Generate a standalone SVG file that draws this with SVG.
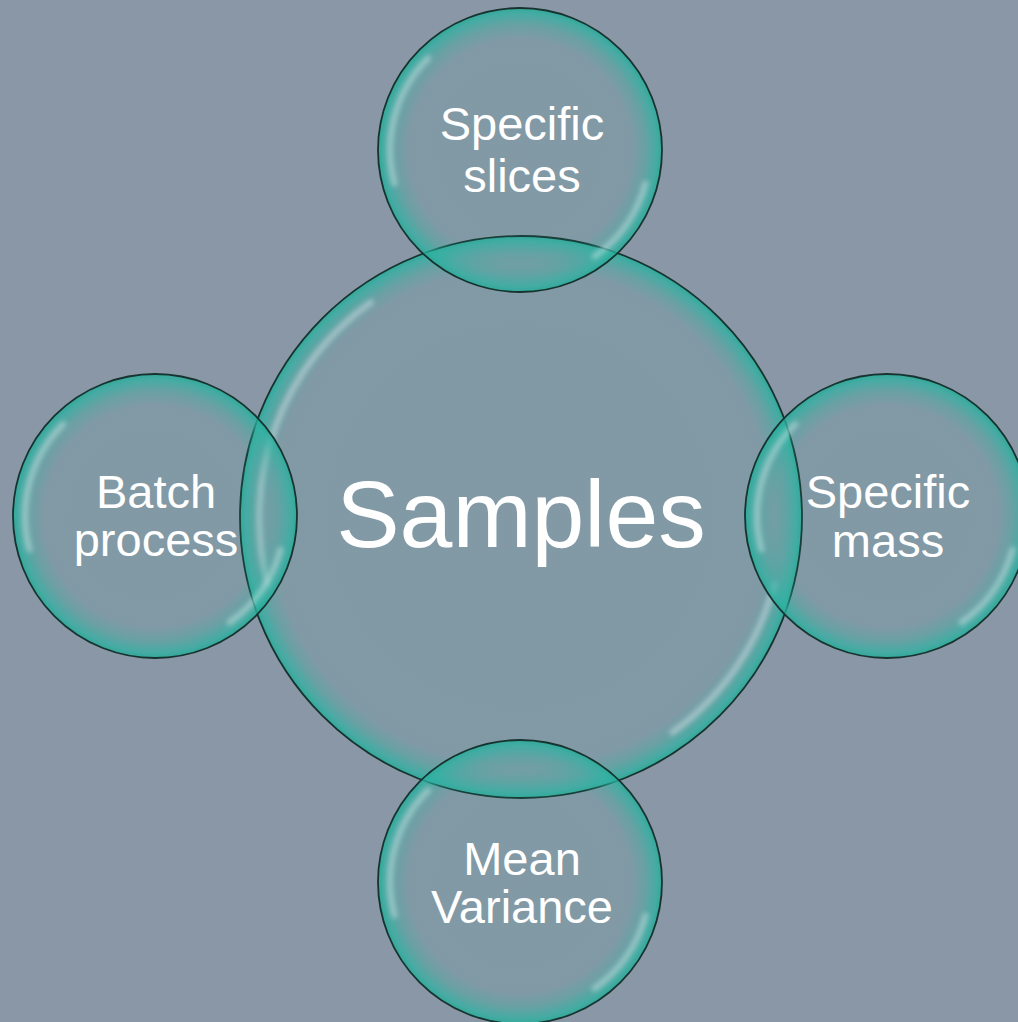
<svg xmlns="http://www.w3.org/2000/svg" width="1018" height="1022" viewBox="0 0 1018 1022">
  <style>
    .rim { stroke: #16332f; stroke-width: 1.8; }
    .hl { fill: none; stroke: #e3eef0; stroke-opacity: 0.45; stroke-width: 6; stroke-linecap: round; filter: url(#soft); }
    .lbl { font-family: "Liberation Sans", Arial, sans-serif; fill: #ffffff; text-anchor: middle; }
    .small { font-size: 47px; }
    .big { font-size: 95px; }
  </style>
  <defs>
    <radialGradient id="bubS" cx="50%" cy="50%" r="50%">
      <stop offset="0" stop-color="#2cb3a2" stop-opacity="0.08"/>
      <stop offset="0.78" stop-color="#2cb3a2" stop-opacity="0.1"/>
      <stop offset="0.88" stop-color="#2cb3a2" stop-opacity="0.35"/>
      <stop offset="0.96" stop-color="#2cb3a2" stop-opacity="0.72"/>
      <stop offset="1" stop-color="#27aa98" stop-opacity="0.88"/>
    </radialGradient>
    <radialGradient id="bubL" cx="50%" cy="50%" r="50%">
      <stop offset="0" stop-color="#2cb3a2" stop-opacity="0.08"/>
      <stop offset="0.89" stop-color="#2cb3a2" stop-opacity="0.1"/>
      <stop offset="0.94" stop-color="#2cb3a2" stop-opacity="0.35"/>
      <stop offset="0.98" stop-color="#2cb3a2" stop-opacity="0.72"/>
      <stop offset="1" stop-color="#27aa98" stop-opacity="0.88"/>
    </radialGradient>
    <filter id="soft" x="-20%" y="-20%" width="140%" height="140%">
      <feGaussianBlur stdDeviation="2.5"/>
    </filter>
    <path id="hlS1" d="M -91.9 -91.9 A 130 130 0 0 0 -125.6 33.6"/>
    <path id="hlS2" d="M 125.6 33.6 A 130 130 0 0 1 74.6 106.5"/>
  </defs>
  <rect width="1018" height="1022" fill="#8a97a6"/>

  <g id="connectors"/>

  <g id="node-samples" transform="translate(521,517)">
    <circle r="281" fill="url(#bubL)" class="rim"/>
    <path class="hl" d="M -150.3 -214.6 A 264 264 0 0 0 -253.1 67.8"/>
    <path class="hl" d="M 253.1 67.8 A 264 264 0 0 1 151.4 215.5"/>
    <text class="lbl big" x="0" y="30">Samples</text>
  </g>

  <g id="node-specific-slices" transform="translate(520,150)">
    <circle r="142" fill="url(#bubS)" class="rim"/>
    <use href="#hlS1" class="hl"/>
    <use href="#hlS2" class="hl"/>
    <text class="lbl small" x="2" y="-10">Specific</text>
    <text class="lbl small" x="2" y="42">slices</text>
  </g>

  <g id="node-batch-process" transform="translate(155,516)">
    <circle r="142" fill="url(#bubS)" class="rim"/>
    <use href="#hlS1" class="hl"/>
    <use href="#hlS2" class="hl"/>
    <text class="lbl small" x="1" y="-8">Batch</text>
    <text class="lbl small" x="1" y="40">process</text>
  </g>

  <g id="node-specific-mass" transform="translate(887,516)">
    <circle r="142" fill="url(#bubS)" class="rim"/>
    <use href="#hlS1" class="hl"/>
    <use href="#hlS2" class="hl"/>
    <text class="lbl small" x="1" y="-8">Specific</text>
    <text class="lbl small" x="1" y="41">mass</text>
  </g>

  <g id="node-mean-variance" transform="translate(520,882)">
    <circle r="142" fill="url(#bubS)" class="rim"/>
    <use href="#hlS1" class="hl"/>
    <use href="#hlS2" class="hl"/>
    <text class="lbl small" x="2" y="-7">Mean</text>
    <text class="lbl small" x="2" y="41">Variance</text>
  </g>
</svg>
